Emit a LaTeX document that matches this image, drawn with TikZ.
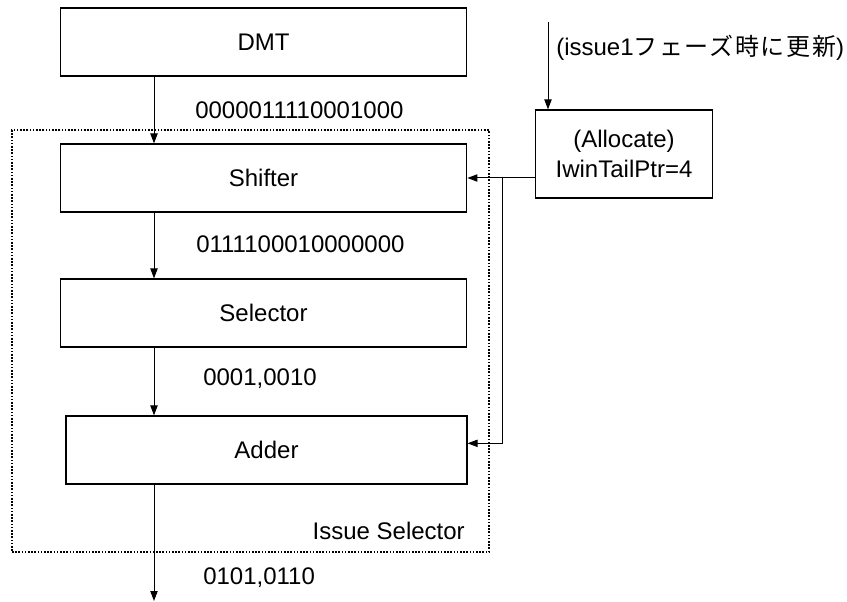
\documentclass[tikz,border=0pt]{standalone}
\usepackage{fontspec}
\setmainfont{Liberation Sans}
\newfontfamily\jpfont[LetterSpace=7]{Noto Sans CJK JP}
\usetikzlibrary{arrows.meta,positioning}
\tikzset{
  isblock/.style={draw,line width=0.9pt,minimum width=305pt,
                  minimum height=51pt,inner sep=0pt},
  isgroup/.style={draw,dash pattern=on 1.2pt off 1.2pt,line width=0.9pt,
                  inner sep=0pt},
  isarrow/.style={-{Triangle[length=7.5pt,width=5.5pt]},line width=0.75pt},
  islabel/.style={inner sep=0pt,anchor=west}
}

\begin{document}
\begin{tikzpicture}[x=0.75pt,y=-0.75pt,font=\fontsize{18}{22.5}\selectfont]
    \useasboundingbox (0,0) rectangle (847,602);

    % issue selector frame
    \node[isgroup,minimum width=357.75pt,minimum height=316.5pt]
      (issuesel) at (250.5,341) {};
    \node[islabel,anchor=east] (issuelbl) at (465,531) {Issue Selector};

    \node[isblock] (dmt) at (263.5,42) {DMT};
    \node[isblock] (shifter) at (263.5,178) {Shifter};
    \node[isblock] (selector) at (263.5,313) {Selector};
    \node[isblock,minimum width=300.75pt] (adder) at (266.5,450) {Adder};

    \node[draw,line width=0.9pt,minimum width=133pt,minimum height=66pt,
          inner sep=0pt,align=center] (alloc) at (624,154)
      {(Allocate)\\IwinTailPtr=4};

    % data flow
    \coordinate (col) at (154,0);
    \coordinate (out) at (154,601);
    \draw[isarrow] (dmt.south -| col) -- (shifter.north -| col);
    \draw[isarrow] (shifter.south -| col) -- (selector.north -| col);
    \draw[isarrow] (selector.south -| col) -- (adder.north -| col);
    \draw[isarrow] (adder.south -| col) -- (out);

    \node[islabel] (bits1) at (195,110) {0000011110001000};
    \node[islabel] (bits2) at (196,244) {0111100010000000};
    \node[islabel] (bits3) at (203,379) {0001,0010};
    \node[islabel] (bits4) at (203,578) {0101,0110};

    % pointer update
    \coordinate (upd) at (548,22);
    \draw[isarrow] (upd) -- (alloc.north -| upd);
    \node[islabel] (updlbl) at (556,48) {(issue1{\jpfont フェーズ時に更新})};

    \coordinate (br) at (502,178);
    \draw[isarrow] (shifter.east -| alloc.west) -- (shifter.east);
    \draw[isarrow] (br) |- ([yshift=5pt]adder.east);
\end{tikzpicture}
\end{document}
